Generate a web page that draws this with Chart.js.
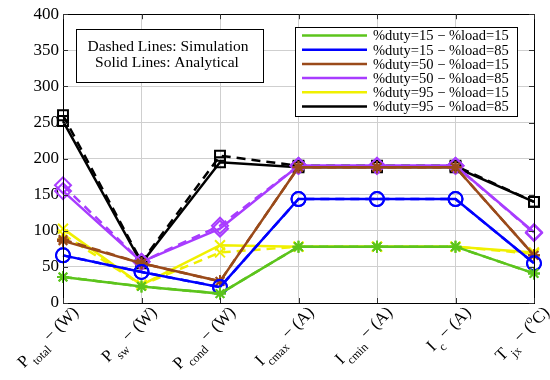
<!DOCTYPE html>
<html>
<head>
<meta charset="utf-8">
<script src="https://cdn.jsdelivr.net/npm/chart.js@4/dist/chart.umd.min.js"></script>
<style>
html,body{margin:0;padding:0;background:#fff;}
#wrap{width:550px;height:380px;}
</style>
</head>
<body>
<div id="wrap"><canvas id="c" width="550" height="380"></canvas></div>
<script>
// Categories (markup: _{..} subscript, ^{..} superscript)
const categories = ['P_{total} − (W)', 'P_{sw} − (W)', 'P_{cond} − (W)', 'I_{cmax} − (A)', 'I_{cmin} − (A)', 'I_{c} − (A)', 'T_{jx} − (^{o}C)'];
const yTicks = [0, 50, 100, 150, 200, 250, 300, 350, 400];

const seriesNames = ['%duty=15 − %load=15', '%duty=15 − %load=85', '%duty=50 − %load=15', '%duty=50 − %load=85', '%duty=95 − %load=15', '%duty=95 − %load=85'];

// Analytical (solid lines)
const anaD15L15 = [36, 23, 13, 78, 78, 78, 41];
const anaD15L85 = [66, 43, 22, 144, 144, 144, 55];
const anaD50L15 = [86, 55, 30, 188, 188, 188, 66];
const anaD50L85 = [155, 57, 103, 190, 190, 190, 98];
const anaD95L15 = [103, 25, 80, 78, 78, 78, 70];
const anaD95L85 = [252, 55, 195, 188, 188, 188, 140];

// Simulation (dashed lines)
const simD15L15 = [36, 23, 13, 78, 78, 78, 41];
const simD15L85 = [66, 43, 22, 144, 144, 144, 55];
const simD50L15 = [88, 55, 30, 188, 188, 188, 66];
const simD50L85 = [163, 57, 107, 190, 190, 190, 97];
const simD95L15 = [95, 25, 70, 78, 78, 78, 68];
const simD95L85 = [260, 57, 204, 190, 190, 190, 140];

const boxLines = ['Dashed Lines: Simulation', 'Solid Lines: Analytical'];

const colors = ['#5cc41c', '#0000ff', '#9a4a1a', '#a83cff', '#f0f000', '#000000'];
const markers = ['star', 'circle', 'star', 'rectRot', 'crossRot', 'rect'];
const markerRadius = [6, 7, 6, 8, 7, 7];

const analytical = [anaD15L15, anaD15L85, anaD50L15, anaD50L85, anaD95L15, anaD95L85];
const simulation = [simD15L15, simD15L85, simD50L15, simD50L85, simD95L15, simD95L85];

const SERIF = '"Liberation Serif", "DejaVu Serif", serif';

const datasets = [];
for (let i = 0; i < 6; i++) {
  datasets.push({
    label: seriesNames[i], data: analytical[i], kind: 'ana',
    borderColor: colors[i], backgroundColor: 'rgba(0,0,0,0)',
    borderWidth: 2.5, pointStyle: markers[i], pointRadius: markerRadius[i],
    pointBorderColor: colors[i], pointBackgroundColor: 'rgba(0,0,0,0)', pointBorderWidth: 2,
    tension: 0, clip: false
  });
  datasets.push({
    label: seriesNames[i] + ' (sim)', data: simulation[i], kind: 'sim',
    borderColor: colors[i], backgroundColor: 'rgba(0,0,0,0)',
    borderWidth: 2.5, borderDash: [9, 6], pointStyle: markers[i], pointRadius: markerRadius[i],
    pointBorderColor: colors[i], pointBackgroundColor: 'rgba(0,0,0,0)', pointBorderWidth: 2,
    tension: 0, clip: false
  });
}

function parseMarkup(s) {
  const parts = [];
  let i = 0, buf = '';
  while (i < s.length) {
    if ((s[i] === '_' || s[i] === '^') && s[i + 1] === '{') {
      if (buf) { parts.push({ t: buf, k: 'n' }); buf = ''; }
      const end = s.indexOf('}', i);
      parts.push({ t: s.slice(i + 2, end), k: s[i] === '_' ? 'sub' : 'sup' });
      i = end + 1;
    } else { buf += s[i]; i++; }
  }
  if (buf) parts.push({ t: buf, k: 'n' });
  return parts;
}

const decorPlugin = {
  id: 'decor',
  afterDraw(chart) {
    const ctx = chart.ctx;
    const a = chart.chartArea;
    const xs = chart.scales.x, ys = chart.scales.y;
    ctx.save();
    // frame
    ctx.strokeStyle = '#000';
    ctx.lineWidth = 1;
    ctx.strokeRect(Math.round(a.left) + 0.5, Math.round(a.top) + 0.5, Math.round(a.right - a.left), Math.round(a.bottom - a.top));
    // inward ticks
    ctx.strokeStyle = '#333';
    ctx.beginPath();
    yTicks.forEach(v => {
      const y = Math.round(ys.getPixelForValue(v)) + 0.5;
      ctx.moveTo(a.left, y); ctx.lineTo(a.left + 5, y);
      ctx.moveTo(a.right, y); ctx.lineTo(a.right - 5, y);
    });
    categories.forEach((c, i) => {
      const x = Math.round(xs.getPixelForValue(i)) + 0.5;
      ctx.moveTo(x, a.bottom); ctx.lineTo(x, a.bottom - 5);
      ctx.moveTo(x, a.top); ctx.lineTo(x, a.top + 5);
    });
    ctx.stroke();

    // x labels, rotated
    categories.forEach((c, i) => {
      const x = xs.getPixelForValue(i);
      const parts = parseMarkup(c);
      const fN = '17px ' + SERIF, fS = '12px ' + SERIF;
      let w = 0;
      parts.forEach(p => { ctx.font = p.k === 'n' ? fN : fS; p.w = ctx.measureText(p.t).width; w += p.w + (p.k === 'sub' ? 2 : 0); });
      ctx.save();
      ctx.translate(x + 12, a.bottom + 6);
      ctx.rotate(-Math.PI / 4);
      ctx.fillStyle = '#000';
      ctx.textBaseline = 'alphabetic';
      ctx.textAlign = 'left';
      let cx = -w;
      parts.forEach(p => {
        ctx.font = p.k === 'n' ? fN : fS;
        let dy = 6;
        if (p.k === 'sub') { cx += 2; dy = 13; }
        if (p.k === 'sup') dy = -1;
        ctx.fillText(p.t, cx, dy);
        cx += p.w;
      });
      ctx.restore();
    });

    // annotation box
    ctx.fillStyle = '#fff';
    ctx.fillRect(76, 29, 187, 53);
    ctx.strokeStyle = '#000';
    ctx.lineWidth = 1;
    ctx.strokeRect(76.5, 29.5, 187, 53);
    ctx.fillStyle = '#000';
    ctx.font = '15.5px ' + SERIF;
    ctx.textAlign = 'center';
    ctx.textBaseline = 'middle';
    ctx.fillText(boxLines[0], 168, 47);
    ctx.fillText(boxLines[1], 167, 63);

    // legend
    const lx = 295, ly = 27, lw = 222, lh = 89;
    ctx.fillStyle = '#fff';
    ctx.fillRect(lx, ly, lw, lh);
    ctx.strokeRect(lx + 0.5, ly + 0.5, lw, lh);
    ctx.font = '14.5px ' + SERIF;
    ctx.textAlign = 'left';
    ctx.textBaseline = 'middle';
    chart.data.datasets.filter(d => d.kind === 'ana').forEach((d, i) => {
      const y = 35.5 + i * 14.2;
      ctx.strokeStyle = d.borderColor;
      ctx.lineWidth = 2.5;
      ctx.beginPath(); ctx.moveTo(302, y); ctx.lineTo(367, y); ctx.stroke();
      ctx.fillStyle = '#000';
      ctx.fillText(d.label, 373, y + 1);
    });
    ctx.restore();
  }
};

new Chart(document.getElementById('c'), {
  type: 'line',
  data: { labels: categories, datasets: datasets },
  options: {
    responsive: false,
    animation: false,
    devicePixelRatio: 1,
    layout: { padding: { top: 12, right: 16, left: 0, bottom: 0 } },
    plugins: { legend: { display: false }, tooltip: { enabled: false } },
    scales: {
      x: {
        type: 'category', offset: false,
        grid: { color: '#cfcfcf', lineWidth: 1, drawTicks: false },
        border: { display: false },
        ticks: { display: false },
        afterFit(s) { s.height = 77; }
      },
      y: {
        min: 0, max: 400,
        afterBuildTicks(s) { s.ticks = yTicks.map(v => ({ value: v })); },
        grid: { color: '#cfcfcf', lineWidth: 1, drawTicks: false },
        border: { display: false },
        ticks: { font: { family: SERIF, size: 17 }, color: '#000', padding: 4 },
        afterFit(s) { s.width = 63; }
      }
    }
  },
  plugins: [decorPlugin]
});
</script>
</body>
</html>
